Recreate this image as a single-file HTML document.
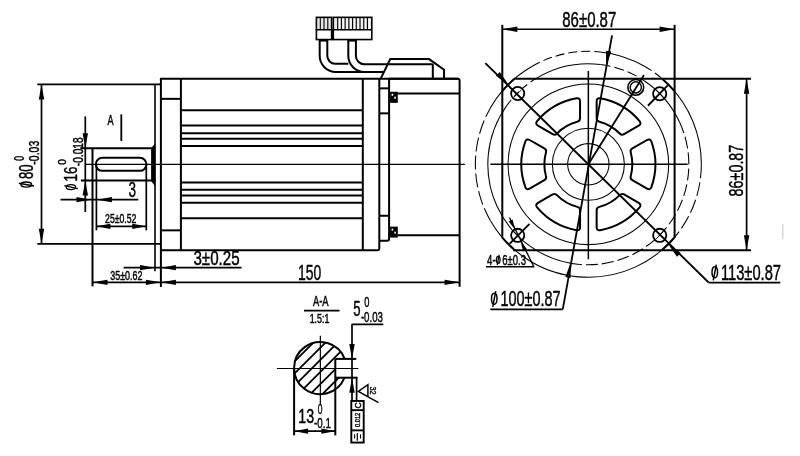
<!DOCTYPE html>
<html><head><meta charset="utf-8"><style>
html,body{margin:0;padding:0;background:#fff;overflow:hidden;width:800px;height:456px;}
svg{filter:grayscale(1);}
svg{display:block;}
</style></head><body>
<svg width="800" height="456" viewBox="0 0 800 456" stroke-linecap="butt">
<rect width="800" height="456" fill="#fff"/>
<g transform="translate(0.3,0.35)">
<line x1="85.60" y1="164.10" x2="464.60" y2="164.10" stroke="#000" stroke-width="1.3" />
<line x1="37.00" y1="84.10" x2="160.60" y2="84.10" stroke="#000" stroke-width="1.7" />
<line x1="37.00" y1="243.45" x2="160.60" y2="243.45" stroke="#000" stroke-width="1.7" />
<line x1="41.20" y1="84.10" x2="41.20" y2="243.45" stroke="#000" stroke-width="1.7" />
<path d="M41.20 84.10 L43.90 99.10 L38.50 99.10Z" fill="#000"/>
<path d="M41.20 243.45 L38.50 228.45 L43.90 228.45Z" fill="#000"/>
<line x1="154.70" y1="84.10" x2="154.70" y2="271.00" stroke="#000" stroke-width="1.6" />
<line x1="160.60" y1="78.50" x2="160.60" y2="286.60" stroke="#000" stroke-width="2.0" />
<line x1="159.60" y1="78.50" x2="458.00" y2="78.50" stroke="#000" stroke-width="2.0" />
<path d="M160.6 250 H377 Q379 250 379 248 V78.5" stroke="#000" stroke-width="2.0" fill="none" />
<line x1="180.60" y1="78.50" x2="180.60" y2="250.00" stroke="#000" stroke-width="2.0" />
<line x1="160.60" y1="98.50" x2="180.60" y2="98.50" stroke="#000" stroke-width="2.0" />
<line x1="160.60" y1="230.00" x2="180.60" y2="230.00" stroke="#000" stroke-width="2.0" />
<line x1="180.60" y1="110.00" x2="362.50" y2="110.00" stroke="#000" stroke-width="2.0" />
<line x1="180.60" y1="125.25" x2="362.50" y2="125.25" stroke="#000" stroke-width="2.0" />
<line x1="180.60" y1="133.00" x2="362.50" y2="133.00" stroke="#000" stroke-width="2.0" />
<line x1="180.60" y1="138.50" x2="362.50" y2="138.50" stroke="#000" stroke-width="2.0" />
<line x1="180.60" y1="145.75" x2="362.50" y2="145.75" stroke="#000" stroke-width="2.0" />
<line x1="180.60" y1="182.25" x2="362.50" y2="182.25" stroke="#000" stroke-width="2.0" />
<line x1="180.60" y1="189.50" x2="362.50" y2="189.50" stroke="#000" stroke-width="2.0" />
<line x1="180.60" y1="195.25" x2="362.50" y2="195.25" stroke="#000" stroke-width="2.0" />
<line x1="180.60" y1="202.50" x2="362.50" y2="202.50" stroke="#000" stroke-width="2.0" />
<line x1="180.60" y1="218.00" x2="362.50" y2="218.00" stroke="#000" stroke-width="2.0" />
<line x1="362.50" y1="78.50" x2="362.50" y2="250.00" stroke="#000" stroke-width="2.0" />
<path d="M379 240.4 H386.8 Q388.8 240.4 388.8 238.4 V78.5" stroke="#000" stroke-width="2.0" fill="none" />
<line x1="379.00" y1="88.00" x2="388.80" y2="88.00" stroke="#000" stroke-width="2.0" />
<line x1="379.00" y1="113.00" x2="388.80" y2="113.00" stroke="#000" stroke-width="2.0" />
<line x1="379.00" y1="215.40" x2="388.80" y2="215.40" stroke="#000" stroke-width="2.0" />
<path d="M388.8 78.5 H457.3 Q459.3 78.5 459.3 80.5 V286.5" stroke="#000" stroke-width="2.0" fill="none" />
<line x1="388.80" y1="93.20" x2="459.30" y2="93.20" stroke="#000" stroke-width="2.0" />
<line x1="397.50" y1="235.00" x2="459.30" y2="235.00" stroke="#000" stroke-width="2.0" />
<rect x="389.8" y="91.4" width="7.7" height="11.1" fill="#000"/>
<rect x="391.3" y="93.4" width="1.6" height="2" fill="#fff"/><rect x="394" y="96.4" width="1.6" height="2" fill="#fff"/>
<rect x="389.8" y="226.3" width="7.7" height="10.9" fill="#000"/>
<rect x="391.3" y="228.3" width="1.6" height="2" fill="#fff"/><rect x="394" y="231.3" width="1.6" height="2" fill="#fff"/>
<path d="M380.5 78 L390 58.75 H428.75 L443.75 69.4 V78.5" stroke="#000" stroke-width="2.0" fill="none" />
<line x1="432.50" y1="63.80" x2="432.50" y2="78.50" stroke="#000" stroke-width="2.0" />
<path d="M319.4 39.4 V55.5 A16.2 16.2 0 0 0 335.6 71.7 H383.5" stroke="#000" stroke-width="2.0" fill="none" />
<path d="M327 39.4 V55.5 A7.9 7.9 0 0 0 334.9 63.4 H348" stroke="#000" stroke-width="2.0" fill="none" />
<path d="M348 39.4 V55.5 A16.2 16.2 0 0 0 364.2 71.7" stroke="#000" stroke-width="2.0" fill="none" />
<path d="M355.6 39.4 V55.5 A8.3 8.3 0 0 0 363.9 63.8 H432.5" stroke="#000" stroke-width="2.0" fill="none" />
<rect x="319.2" y="39" width="8.4" height="2.2" fill="#000"/><rect x="347.6" y="39" width="8.8" height="2.2" fill="#000"/>
<rect x="316.8" y="17.8" width="14" height="11.6" fill="#e6e6e6"/><rect x="333.6" y="17.8" width="37.2" height="11.6" fill="#e6e6e6"/>
<line x1="320.00" y1="17.00" x2="320.00" y2="29.40" stroke="#000" stroke-width="1.1" />
<line x1="323.70" y1="17.00" x2="323.70" y2="29.40" stroke="#000" stroke-width="1.1" />
<line x1="327.50" y1="17.00" x2="327.50" y2="29.40" stroke="#000" stroke-width="1.1" />
<line x1="337.40" y1="17.00" x2="337.40" y2="29.40" stroke="#000" stroke-width="1.1" />
<line x1="339.25" y1="17.80" x2="339.25" y2="29.40" stroke="#fff" stroke-width="0.9" />
<line x1="341.12" y1="17.00" x2="341.12" y2="29.40" stroke="#000" stroke-width="1.1" />
<line x1="342.97" y1="17.80" x2="342.97" y2="29.40" stroke="#fff" stroke-width="0.9" />
<line x1="344.84" y1="17.00" x2="344.84" y2="29.40" stroke="#000" stroke-width="1.1" />
<line x1="346.69" y1="17.80" x2="346.69" y2="29.40" stroke="#fff" stroke-width="0.9" />
<line x1="348.56" y1="17.00" x2="348.56" y2="29.40" stroke="#000" stroke-width="1.1" />
<line x1="350.41" y1="17.80" x2="350.41" y2="29.40" stroke="#fff" stroke-width="0.9" />
<line x1="352.28" y1="17.00" x2="352.28" y2="29.40" stroke="#000" stroke-width="1.1" />
<line x1="354.13" y1="17.80" x2="354.13" y2="29.40" stroke="#fff" stroke-width="0.9" />
<line x1="356.00" y1="17.00" x2="356.00" y2="29.40" stroke="#000" stroke-width="1.1" />
<line x1="357.85" y1="17.80" x2="357.85" y2="29.40" stroke="#fff" stroke-width="0.9" />
<line x1="359.72" y1="17.00" x2="359.72" y2="29.40" stroke="#000" stroke-width="1.1" />
<line x1="361.57" y1="17.80" x2="361.57" y2="29.40" stroke="#fff" stroke-width="0.9" />
<line x1="363.44" y1="17.00" x2="363.44" y2="29.40" stroke="#000" stroke-width="1.1" />
<line x1="365.29" y1="17.80" x2="365.29" y2="29.40" stroke="#fff" stroke-width="0.9" />
<line x1="367.16" y1="17.00" x2="367.16" y2="29.40" stroke="#000" stroke-width="1.1" />
<line x1="369.01" y1="17.80" x2="369.01" y2="29.40" stroke="#fff" stroke-width="0.9" />
<rect x="316.1" y="17" width="15.2" height="22.2" fill="none" stroke="#000" stroke-width="1.6"/>
<rect x="333" y="17" width="38.5" height="22.2" fill="none" stroke="#000" stroke-width="1.6"/>
<line x1="315.40" y1="29.40" x2="371.50" y2="29.40" stroke="#000" stroke-width="1.7" />
<rect x="330.8" y="29" width="2.8" height="10.8" fill="#000"/>
<line x1="80.00" y1="148.00" x2="152.00" y2="148.00" stroke="#000" stroke-width="2.0" />
<line x1="80.60" y1="180.25" x2="152.00" y2="180.25" stroke="#000" stroke-width="2.0" />
<line x1="92.20" y1="148.00" x2="92.20" y2="286.00" stroke="#000" stroke-width="2.0" />
<path d="M102 157.5 H139.6 A6.5 6.5 0 0 1 139.6 170.5 H102 A6.5 6.5 0 0 1 102 157.5 Z" stroke="#000" stroke-width="2.0" fill="none" />
<path d="M150.8 148 L154.1 144 L154.9 144 V185 L154.1 185 L150.8 180.6 Z" fill="#000"/>
<line x1="96.10" y1="164.00" x2="96.10" y2="230.00" stroke="#000" stroke-width="1.7" />
<line x1="146.00" y1="164.00" x2="146.00" y2="230.00" stroke="#000" stroke-width="1.7" />
<line x1="121.00" y1="114.00" x2="121.00" y2="140.60" stroke="#000" stroke-width="1.8" />
<line x1="85.00" y1="116.00" x2="85.00" y2="211.60" stroke="#000" stroke-width="1.7" />
<path d="M85.00 148.00 L82.30 133.00 L87.70 133.00Z" fill="#000"/>
<path d="M85.00 180.25 L87.70 195.25 L82.30 195.25Z" fill="#000"/>
<line x1="60.25" y1="199.30" x2="138.00" y2="199.30" stroke="#000" stroke-width="1.7" />
<path d="M91.20 199.30 L76.20 202.00 L76.20 196.60Z" fill="#000"/>
<path d="M96.60 199.30 L111.60 196.60 L111.60 202.00Z" fill="#000"/>
<line x1="96.10" y1="226.00" x2="146.00" y2="226.00" stroke="#000" stroke-width="1.7" />
<path d="M96.10 226.00 L110.10 223.30 L110.10 228.70Z" fill="#000"/>
<path d="M146.00 226.00 L132.00 228.70 L132.00 223.30Z" fill="#000"/>
<line x1="123.30" y1="267.30" x2="241.25" y2="267.30" stroke="#000" stroke-width="1.7" />
<path d="M154.70 267.30 L139.70 270.00 L139.70 264.60Z" fill="#000"/>
<path d="M160.60 267.30 L175.60 264.60 L175.60 270.00Z" fill="#000"/>
<line x1="92.20" y1="282.00" x2="459.30" y2="282.00" stroke="#000" stroke-width="1.7" />
<path d="M92.20 282.00 L107.20 279.30 L107.20 284.70Z" fill="#000"/>
<path d="M160.60 282.00 L145.60 284.70 L145.60 279.30Z" fill="#000"/>
<path d="M160.60 282.00 L175.60 279.30 L175.60 284.70Z" fill="#000"/>
<path d="M459.30 282.00 L444.30 284.70 L444.30 279.30Z" fill="#000"/>
<path d="M485.64 116.19 A113 113 0 0 1 531.55 66.09" stroke="#000" stroke-width="1.05" fill="none" />
<path d="M531.55 66.09 A113 113 0 0 1 599.86 51.57" stroke="#000" stroke-width="1.05" fill="none" stroke-dasharray="9 4"/>
<path d="M599.86 51.57 A113 113 0 0 1 644.55 66.09" stroke="#000" stroke-width="1.05" fill="none" />
<path d="M644.55 66.09 A113 113 0 0 1 667.95 84.05" stroke="#000" stroke-width="1.05" fill="none" stroke-dasharray="8 4"/>
<path d="M667.95 84.05 A113 113 0 0 1 701.05 163.95" stroke="#000" stroke-width="1.05" fill="none" />
<path d="M701.05 163.95 A113 113 0 0 1 674.61 236.58" stroke="#000" stroke-width="1.05" fill="none" stroke-dasharray="14 4"/>
<path d="M674.61 236.58 A113 113 0 0 1 490.19 220.45" stroke="#000" stroke-width="1.05" fill="none" />
<path d="M490.19 220.45 A113 113 0 0 1 485.64 116.19" stroke="#000" stroke-width="1.05" fill="none" stroke-dasharray="14 4"/>
<path d="M506.74 104.88 A100.5 100.5 0 0 1 536.29 77.80" stroke="#000" stroke-width="1.05" fill="none" stroke-dasharray="7 4"/>
<path d="M536.29 77.80 A100.5 100.5 0 0 1 600.30 64.20" stroke="#000" stroke-width="1.05" fill="none" />
<path d="M600.30 64.20 A100.5 100.5 0 0 1 644.25 80.63" stroke="#000" stroke-width="1.05" fill="none" stroke-dasharray="10 4"/>
<path d="M644.25 80.63 A100.5 100.5 0 0 1 679.13 121.48" stroke="#000" stroke-width="1.05" fill="none" />
<path d="M679.13 121.48 A100.5 100.5 0 0 1 579.29 264.07" stroke="#000" stroke-width="1.05" fill="none" stroke-dasharray="12 4"/>
<path d="M579.29 264.07 A100.5 100.5 0 0 1 506.74 104.88" stroke="#000" stroke-width="1.05" fill="none" />
<circle cx="588.05" cy="163.95" r="80.30" stroke="#000" stroke-width="1.05" fill="none" />
<circle cx="588.05" cy="163.95" r="36.00" stroke="#000" stroke-width="1.05" fill="none" />
<circle cx="588.05" cy="163.95" r="20.70" stroke="#000" stroke-width="1.05" fill="none" />
<line x1="502.00" y1="24.50" x2="502.00" y2="236.40" stroke="#000" stroke-width="2.0" />
<line x1="674.30" y1="24.50" x2="674.30" y2="237.70" stroke="#000" stroke-width="2.0" />
<line x1="515.10" y1="78.30" x2="750.70" y2="78.30" stroke="#000" stroke-width="2.0" />
<line x1="512.80" y1="249.80" x2="750.70" y2="249.80" stroke="#000" stroke-width="2.0" />
<path d="M501.95 90.76 A113 113 0 0 1 514.78 77.92" stroke="#000" stroke-width="2.0" fill="none" />
<path d="M661.84 78.37 A113 113 0 0 1 674.23 90.86" stroke="#000" stroke-width="2.0" fill="none" />
<path d="M673.93 237.39 A113 113 0 0 1 661.97 249.42" stroke="#000" stroke-width="2.0" fill="none" />
<path d="M513.57 248.93 A113 113 0 0 1 501.61 236.73" stroke="#000" stroke-width="2.0" fill="none" />
<path d="M632.05 148.13 L646.75 139.65 Q649.78 137.90 651.05 141.15 A67.0 67.0 0 0 1 651.05 186.75 Q649.78 190.00 646.75 188.25 L632.05 179.77 Q629.62 178.37 630.45 175.69 A44.0 44.0 0 0 0 630.45 152.21 Q629.62 149.53 632.05 148.13 Z" stroke="#000" stroke-width="2.0" fill="none" />
<path d="M623.75 194.14 L638.45 202.63 Q641.48 204.38 639.29 207.11 A67.0 67.0 0 0 1 599.81 229.91 Q596.35 230.43 596.35 226.93 L596.35 209.96 Q596.35 207.16 599.08 206.54 A44.0 44.0 0 0 0 619.42 194.80 Q621.32 192.74 623.75 194.14 Z" stroke="#000" stroke-width="2.0" fill="none" />
<path d="M579.75 209.96 L579.75 226.93 Q579.75 230.43 576.29 229.91 A67.0 67.0 0 0 1 536.81 207.11 Q534.62 204.38 537.65 202.63 L552.35 194.14 Q554.78 192.74 556.68 194.80 A44.0 44.0 0 0 0 577.02 206.54 Q579.75 207.16 579.75 209.96 Z" stroke="#000" stroke-width="2.0" fill="none" />
<path d="M544.05 179.77 L529.35 188.25 Q526.32 190.00 525.05 186.75 A67.0 67.0 0 0 1 525.05 141.15 Q526.32 137.90 529.35 139.65 L544.05 148.13 Q546.48 149.53 545.65 152.21 A44.0 44.0 0 0 0 545.65 175.69 Q546.48 178.37 544.05 179.77 Z" stroke="#000" stroke-width="2.0" fill="none" />
<path d="M552.35 133.76 L537.65 125.27 Q534.62 123.52 536.81 120.79 A67.0 67.0 0 0 1 576.29 97.99 Q579.75 97.47 579.75 100.97 L579.75 117.94 Q579.75 120.74 577.02 121.36 A44.0 44.0 0 0 0 556.68 133.10 Q554.78 135.16 552.35 133.76 Z" stroke="#000" stroke-width="2.0" fill="none" />
<path d="M596.35 117.94 L596.35 100.97 Q596.35 97.47 599.81 97.99 A67.0 67.0 0 0 1 639.29 120.79 Q641.48 123.52 638.45 125.27 L623.75 133.76 Q621.32 135.16 619.42 133.10 A44.0 44.0 0 0 0 599.08 121.36 Q596.35 120.74 596.35 117.94 Z" stroke="#000" stroke-width="2.0" fill="none" />
<circle cx="517.40" cy="93.20" r="6.60" stroke="#000" stroke-width="1.8" fill="none" />
<line x1="520.94" y1="89.67" x2="513.86" y2="96.73" stroke="#000" stroke-width="0.9" />
<circle cx="659.40" cy="93.40" r="6.60" stroke="#000" stroke-width="1.8" fill="none" />
<line x1="662.92" y1="96.96" x2="655.88" y2="89.84" stroke="#000" stroke-width="0.9" />
<circle cx="517.40" cy="235.00" r="6.60" stroke="#000" stroke-width="1.8" fill="none" />
<line x1="513.85" y1="231.47" x2="520.95" y2="238.53" stroke="#000" stroke-width="0.9" />
<circle cx="659.40" cy="235.00" r="6.60" stroke="#000" stroke-width="1.8" fill="none" />
<line x1="655.87" y1="238.54" x2="662.93" y2="231.46" stroke="#000" stroke-width="0.9" />
<circle cx="635.50" cy="87.00" r="7.90" stroke="#000" stroke-width="1.6" fill="none" />
<circle cx="635.50" cy="87.00" r="5.60" stroke="#000" stroke-width="1.4" fill="none" />
<line x1="647.60" y1="105.40" x2="667.40" y2="85.00" stroke="#000" stroke-width="1.8" />
<line x1="529.20" y1="223.50" x2="509.20" y2="243.50" stroke="#000" stroke-width="1.8" />
<line x1="588.05" y1="163.95" x2="643.70" y2="74.70" stroke="#000" stroke-width="1.8" />
<line x1="490.10" y1="163.95" x2="687.30" y2="163.95" stroke="#000" stroke-width="1.5" />
<line x1="588.05" y1="70.60" x2="588.05" y2="258.90" stroke="#000" stroke-width="1.5" />
<line x1="485.00" y1="62.70" x2="708.10" y2="281.90" stroke="#000" stroke-width="1.85" />
<line x1="708.10" y1="282.30" x2="780.00" y2="282.30" stroke="#000" stroke-width="1.6" />
<path d="M508.15 84.05 L495.63 75.35 L499.45 71.53Z" fill="#000"/>
<path d="M667.95 243.85 L680.47 252.55 L676.65 256.37Z" fill="#000"/>
<line x1="611.75" y1="35.00" x2="562.50" y2="308.75" stroke="#000" stroke-width="1.8" />
<line x1="490.00" y1="309.00" x2="562.50" y2="309.00" stroke="#000" stroke-width="1.6" />
<path d="M605.76 65.53 L605.76 50.29 L611.07 51.25Z" fill="#000"/>
<path d="M570.34 262.37 L570.34 277.61 L565.03 276.65Z" fill="#000"/>
<line x1="502.00" y1="28.90" x2="674.30" y2="28.90" stroke="#000" stroke-width="1.7" />
<path d="M502.00 28.90 L517.00 26.20 L517.00 31.60Z" fill="#000"/>
<path d="M674.30 28.90 L659.30 31.60 L659.30 26.20Z" fill="#000"/>
<line x1="746.30" y1="78.30" x2="746.30" y2="249.80" stroke="#000" stroke-width="1.7" />
<path d="M746.30 78.30 L749.00 93.30 L743.60 93.30Z" fill="#000"/>
<path d="M746.30 249.80 L743.60 234.80 L749.00 234.80Z" fill="#000"/>
<line x1="509.20" y1="217.10" x2="533.50" y2="266.30" stroke="#000" stroke-width="1.3" />
<line x1="485.70" y1="266.40" x2="534.00" y2="266.40" stroke="#000" stroke-width="1.4" />
<path d="M514.48 229.09 L508.35 220.89 L512.35 219.07Z" fill="#000"/>
<path d="M520.32 240.91 L526.80 248.85 L522.87 250.83Z" fill="#000"/>
<line x1="782.50" y1="223.50" x2="782.50" y2="239.00" stroke="#cfcfcf" stroke-width="1.2" />
<line x1="303.70" y1="310.20" x2="339.20" y2="310.20" stroke="#000" stroke-width="1.7" />
<clipPath id="sc"><path d="M344.32 358.55 A26.1 26.1 0 1 0 344.17 377.35 L335.0 377.35 L335.0 358.55 Z"/></clipPath>
<path d="M182.75 400 L252.75 330 M194.85 400 L264.85 330 M206.95 400 L276.95 330 M219.05 400 L289.05 330 M231.15 400 L301.15 330 M243.25 400 L313.25 330 M255.35 400 L325.35 330 M267.45 400 L337.45 330 M279.55 400 L349.55 330 M291.65 400 L361.65 330 M303.75 400 L373.75 330 M315.85 400 L385.85 330 M327.95 400 L397.95 330 M340.05 400 L410.05 330 M352.15 400 L422.15 330" stroke="#000" stroke-width="1.8" clip-path="url(#sc)"/>
<path d="M344.32 358.55 A26.1 26.1 0 1 0 344.17 377.35" stroke="#000" stroke-width="2.0" fill="none" />
<line x1="335.00" y1="358.55" x2="356.00" y2="358.55" stroke="#000" stroke-width="2.0" />
<line x1="335.00" y1="377.35" x2="357.20" y2="377.35" stroke="#000" stroke-width="2.0" />
<line x1="335.00" y1="358.55" x2="335.00" y2="435.00" stroke="#000" stroke-width="2.0" />
<line x1="293.80" y1="368.00" x2="293.80" y2="435.00" stroke="#000" stroke-width="2.0" />
<line x1="276.70" y1="368.15" x2="358.00" y2="368.15" stroke="#000" stroke-width="1.2" />
<line x1="320.05" y1="335.30" x2="320.05" y2="404.00" stroke="#000" stroke-width="1.2" />
<line x1="293.80" y1="430.80" x2="335.00" y2="430.80" stroke="#000" stroke-width="1.7" />
<path d="M293.80 430.80 L307.80 428.10 L307.80 433.50Z" fill="#000"/>
<path d="M335.00 430.80 L321.00 433.50 L321.00 428.10Z" fill="#000"/>
<line x1="351.40" y1="324.10" x2="383.00" y2="324.10" stroke="#000" stroke-width="1.7" />
<line x1="351.70" y1="324.00" x2="351.70" y2="400.00" stroke="#000" stroke-width="1.7" />
<path d="M351.70 358.55 L349.00 343.55 L354.40 343.55Z" fill="#000"/>
<path d="M351.70 377.35 L354.40 392.35 L349.00 392.35Z" fill="#000"/>
<line x1="356.30" y1="377.35" x2="356.30" y2="400.40" stroke="#000" stroke-width="1.7" />
<rect x="351" y="400.6" width="12.4" height="41.6" fill="none" stroke="#000" stroke-width="1.9"/>
<line x1="351.00" y1="409.80" x2="363.40" y2="409.80" stroke="#000" stroke-width="1.9" />
<line x1="351.00" y1="430.00" x2="363.40" y2="430.00" stroke="#000" stroke-width="1.9" />
<line x1="357.00" y1="432.60" x2="357.00" y2="440.40" stroke="#000" stroke-width="1.2" />
<line x1="354.30" y1="434.00" x2="354.30" y2="438.20" stroke="#000" stroke-width="1.1" />
<line x1="360.20" y1="434.00" x2="360.20" y2="438.20" stroke="#000" stroke-width="1.1" />
<path d="M378.2 402.3 L358.1 391.1 L367.6 384.3 V396.3" stroke="#000" stroke-width="1.5" fill="none" />
</g>
<g transform="translate(107.47,125.38)"><text x="-0.02" y="0" font-family="Liberation Sans" font-size="13.88" textLength="6.09" lengthAdjust="spacingAndGlyphs" stroke="#000" stroke-width="0.45">A</text></g>
<g transform="translate(193.97,265.27)"><text x="-0.58" y="0" font-family="Liberation Sans" font-size="19.42" textLength="46.26" lengthAdjust="spacingAndGlyphs" stroke="#000" stroke-width="0.45">3±0.25</text></g>
<g transform="translate(299.12,279.57)"><text x="-1.06" y="0" font-family="Liberation Sans" font-size="21.68" textLength="23.26" lengthAdjust="spacingAndGlyphs" stroke="#000" stroke-width="0.45">150</text></g>
<g transform="translate(110.52,279.57)"><text x="-0.34" y="0" font-family="Liberation Sans" font-size="12.36" textLength="32.24" lengthAdjust="spacingAndGlyphs" stroke="#000" stroke-width="0.45">35±0.62</text></g>
<g transform="translate(105.52,223.08)"><text x="-0.44" y="0" font-family="Liberation Sans" font-size="12.64" textLength="31.37" lengthAdjust="spacingAndGlyphs" stroke="#000" stroke-width="0.45">25±0.52</text></g>
<g transform="translate(129.07,197.18)"><text x="-0.51" y="0" font-family="Liberation Sans" font-size="22.67" textLength="7.51" lengthAdjust="spacingAndGlyphs" stroke="#000" stroke-width="0.45">3</text></g>
<g transform="translate(33.48,187.78) rotate(-90)"><ellipse cx="3.20" cy="-7.17" rx="2.51" ry="5.31" fill="none" stroke="#000" stroke-width="1.43"/><line x1="4.58" y1="-14.64" x2="1.82" y2="0.57" stroke="#000" stroke-width="1.43"/><text x="8.74" y="0" font-family="Liberation Sans" font-size="20.55" textLength="14.52" lengthAdjust="spacingAndGlyphs" stroke="#000" stroke-width="0.45">80</text></g>
<g transform="translate(23.57,160.47) rotate(-90)"><text x="-0.34" y="0" font-family="Liberation Sans" font-size="13.91" textLength="4.83" lengthAdjust="spacingAndGlyphs" stroke="#000" stroke-width="0.45">0</text></g>
<g transform="translate(38.88,164.18) rotate(-90)"><text x="-0.47" y="0" font-family="Liberation Sans" font-size="13.91" textLength="23.88" lengthAdjust="spacingAndGlyphs" stroke="#000" stroke-width="0.45">-0.03</text></g>
<g transform="translate(77.28,190.38) rotate(-90)"><ellipse cx="3.26" cy="-6.39" rx="2.54" ry="4.73" fill="none" stroke="#000" stroke-width="1.28"/><line x1="4.66" y1="-13.03" x2="1.86" y2="0.51" stroke="#000" stroke-width="1.28"/><text x="8.92" y="0" font-family="Liberation Sans" font-size="18.29" textLength="14.81" lengthAdjust="spacingAndGlyphs" stroke="#000" stroke-width="0.45">16</text></g>
<g transform="translate(66.28,164.38) rotate(-90)"><text x="-0.40" y="0" font-family="Liberation Sans" font-size="11.51" textLength="5.64" lengthAdjust="spacingAndGlyphs" stroke="#000" stroke-width="0.45">0</text></g>
<g transform="translate(82.68,165.78) rotate(-90)"><text x="-0.45" y="0" font-family="Liberation Sans" font-size="14.19" textLength="28.84" lengthAdjust="spacingAndGlyphs" stroke="#000" stroke-width="0.45">-0.018</text></g>
<g transform="translate(711.23,279.77)"><ellipse cx="3.54" cy="-7.42" rx="2.76" ry="5.49" fill="none" stroke="#000" stroke-width="1.48"/><line x1="5.05" y1="-15.14" x2="2.02" y2="0.59" stroke="#000" stroke-width="1.48"/><text x="9.67" y="0" font-family="Liberation Sans" font-size="21.26" textLength="60.10" lengthAdjust="spacingAndGlyphs" stroke="#000" stroke-width="0.45">113±0.87</text></g>
<g transform="translate(490.73,306.27)"><ellipse cx="3.54" cy="-7.42" rx="2.76" ry="5.49" fill="none" stroke="#000" stroke-width="1.48"/><line x1="5.05" y1="-15.14" x2="2.02" y2="0.59" stroke="#000" stroke-width="1.48"/><text x="9.67" y="0" font-family="Liberation Sans" font-size="21.26" textLength="60.10" lengthAdjust="spacingAndGlyphs" stroke="#000" stroke-width="0.45">100±0.87</text></g>
<g transform="translate(562.88,26.67)"><text x="-0.65" y="0" font-family="Liberation Sans" font-size="21.82" textLength="54.05" lengthAdjust="spacingAndGlyphs" stroke="#000" stroke-width="0.45">86±0.87</text></g>
<g transform="translate(742.77,195.78) rotate(-90)"><text x="-0.62" y="0" font-family="Liberation Sans" font-size="20.83" textLength="51.69" lengthAdjust="spacingAndGlyphs" stroke="#000" stroke-width="0.45">86±0.87</text></g>
<g transform="translate(487.33,264.67)"><text x="-0.22" y="0" font-family="Liberation Sans" font-size="13.77" textLength="8.49" lengthAdjust="spacingAndGlyphs" stroke="#000" stroke-width="0.45">4-</text><ellipse cx="10.89" cy="-4.81" rx="1.82" ry="3.56" fill="none" stroke="#000" stroke-width="1.25"/><line x1="11.90" y1="-9.81" x2="9.89" y2="0.38" stroke="#000" stroke-width="1.25"/><text x="14.95" y="0" font-family="Liberation Sans" font-size="13.77" textLength="23.82" lengthAdjust="spacingAndGlyphs" stroke="#000" stroke-width="0.45">6±0.3</text></g>
<g transform="translate(312.93,306.17)"><text x="-0.02" y="0" font-family="Liberation Sans" font-size="13.88" textLength="15.59" lengthAdjust="spacingAndGlyphs" stroke="#000" stroke-width="0.45">A-A</text></g>
<g transform="translate(310.33,322.97)"><text x="-0.67" y="0" font-family="Liberation Sans" font-size="12.11" textLength="19.65" lengthAdjust="spacingAndGlyphs" stroke="#000" stroke-width="0.45">1.5:1</text></g>
<g transform="translate(299.43,422.88)"><text x="-1.09" y="0" font-family="Liberation Sans" font-size="20.97" textLength="15.86" lengthAdjust="spacingAndGlyphs" stroke="#000" stroke-width="0.45">13</text></g>
<g transform="translate(318.12,413.97)"><text x="-0.33" y="0" font-family="Liberation Sans" font-size="14.19" textLength="4.71" lengthAdjust="spacingAndGlyphs" stroke="#000" stroke-width="0.45">0</text></g>
<g transform="translate(314.33,428.47)"><text x="-0.44" y="0" font-family="Liberation Sans" font-size="14.62" textLength="16.97" lengthAdjust="spacingAndGlyphs" stroke="#000" stroke-width="0.45">-0.1</text></g>
<g transform="translate(353.83,316.38)"><text x="-0.53" y="0" font-family="Liberation Sans" font-size="21.71" textLength="7.33" lengthAdjust="spacingAndGlyphs" stroke="#000" stroke-width="0.45">5</text></g>
<g transform="translate(364.62,306.67)"><text x="-0.36" y="0" font-family="Liberation Sans" font-size="14.62" textLength="5.18" lengthAdjust="spacingAndGlyphs" stroke="#000" stroke-width="0.45">0</text></g>
<g transform="translate(361.33,321.62)"><text x="-0.43" y="0" font-family="Liberation Sans" font-size="14.62" textLength="22.00" lengthAdjust="spacingAndGlyphs" stroke="#000" stroke-width="0.45">-0.03</text></g>
<g transform="translate(360.57,407.97) rotate(-90)"><text x="-0.44" y="0" font-family="Liberation Sans" font-size="8.26" textLength="6.21" lengthAdjust="spacingAndGlyphs" stroke="#000" stroke-width="0.45">C</text></g>
<g transform="translate(360.47,426.77) rotate(-90)"><text x="-0.22" y="0" font-family="Liberation Sans" font-size="7.84" textLength="14.26" lengthAdjust="spacingAndGlyphs" stroke="#000" stroke-width="0.45">0.012</text></g>
<g transform="translate(370.18,386.78) rotate(90)"><text x="-0.28" y="0" font-family="Liberation Sans" font-size="9.11" textLength="8.20" lengthAdjust="spacingAndGlyphs" stroke="#000" stroke-width="0.35">32</text></g>
</svg>
</body></html>
